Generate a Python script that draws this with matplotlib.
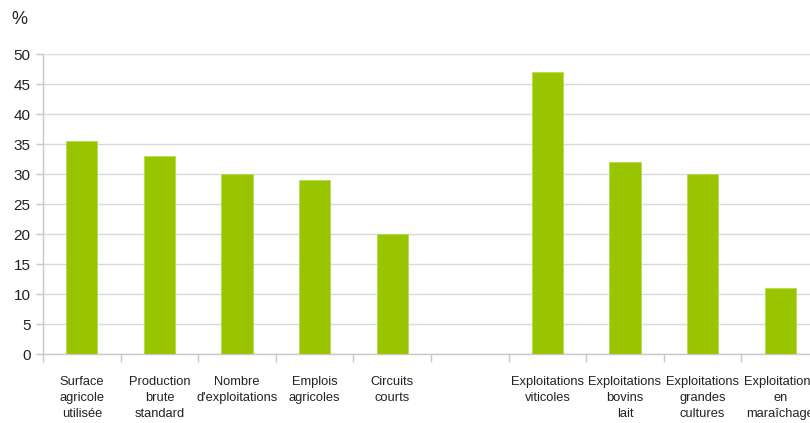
import numpy as np
import matplotlib.pyplot as plt

plt.rcParams['font.family'] = ['Liberation Sans', 'DejaVu Sans']

# Data
categories = [
    "Surface\nagricole\nutilisée",
    "Production\nbrute\nstandard",
    "Nombre\nd'exploitations",
    "Emplois\nagricoles",
    "Circuits\ncourts",
    "",
    "Exploitations\nviticoles",
    "Exploitations\nbovins\nlait",
    "Exploitations\ngrandes\ncultures",
    "Exploitations\nen\nmaraîchage",
]
values = [35.5, 33, 30, 29, 20, np.nan, 47, 32, 30, 11]

bar_color = '#98c400'
grid_color = '#d9d9d9'
axis_color = '#c8c8c8'

fig = plt.figure(figsize=(8.10, 4.23), dpi=100)
ax = fig.add_axes([0.0531, 0.163, 0.958, 0.7093])

x = np.arange(len(categories))
ax.bar(x, values, width=0.4, color=bar_color, edgecolor='#b5dc50', linewidth=0.6, zorder=3)

ax.set_xlim(-0.5, len(categories) - 0.5)
ax.set_ylim(0, 50)
ax.set_yticks(np.arange(0, 51, 5))
ax.yaxis.grid(True, color=grid_color, linewidth=1, zorder=0)
ax.set_axisbelow(True)

ax.set_xticks(x)
ax.set_xticklabels(categories, fontsize=9.3, linespacing=1.45, color='#222222')
ax.set_xticks(np.arange(-0.5, len(categories), 1), minor=True)
ax.tick_params(axis='x', which='major', length=0, pad=16)
ax.tick_params(axis='x', which='minor', length=6, color=axis_color, width=1)
ax.tick_params(axis='y', length=5, color=axis_color, width=1, labelsize=11,
               labelcolor='#222222', pad=4)

for side in ['top', 'right']:
    ax.spines[side].set_visible(False)
for side in ['left', 'bottom']:
    ax.spines[side].set_color(axis_color)
    ax.spines[side].set_linewidth(1)

fig.text(0.014, 0.955, "%", fontsize=13, color='#222222', va='center', ha='left')

fig.savefig("out.png", dpi=100)
